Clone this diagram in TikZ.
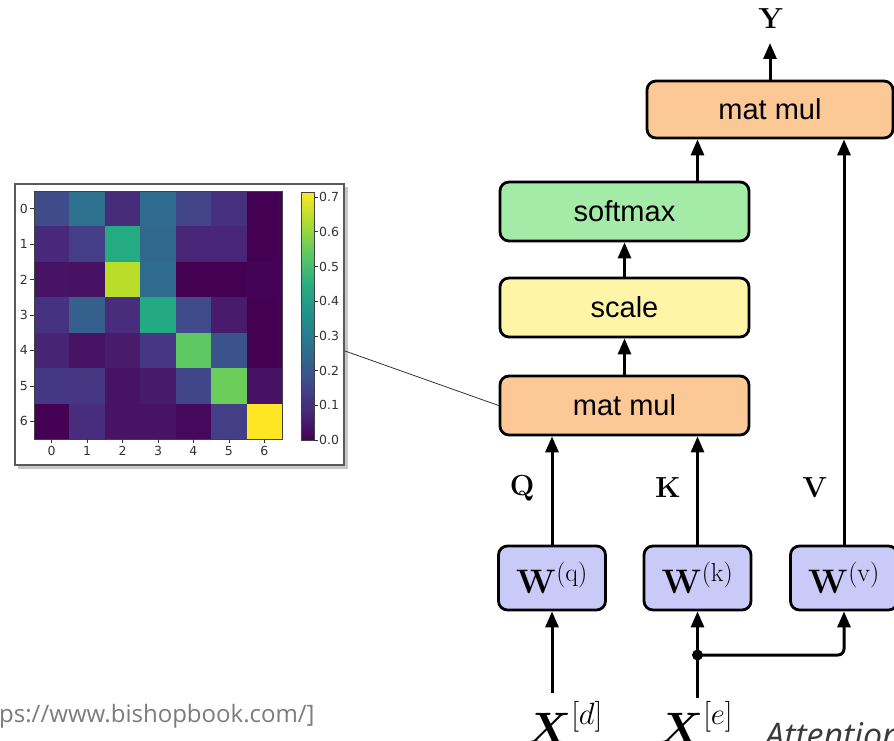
\RequirePackage{fix-cm}
\documentclass[tikz,border=0pt]{standalone}
\usepackage{amsmath}
\usepackage[no-math]{fontspec}
\newfontfamily\labelfont{Liberation Sans}
\newfontfamily\urlfont{Open Sans}
\newfontfamily\tickfont{DejaVu Sans}
\usetikzlibrary{arrows.meta}
\newcommand{\supsz}[1]{\text{\fontsize{26}{30}\selectfont #1}}
\definecolor{mmorange}{HTML}{FCC896}
\definecolor{smgreen}{HTML}{A3EBA6}
\definecolor{scyellow}{HTML}{FFF5A9}
\definecolor{wblue}{HTML}{CACAF9}
\definecolor{urlgray}{HTML}{7C7C7C}
\definecolor{attgray}{HTML}{3A3A3A}
\definecolor{framegray}{HTML}{5A5A5A}
\definecolor{ticktext}{HTML}{333333}
\definecolor{v0}{HTML}{440154}
\definecolor{v1}{HTML}{472C7A}
\definecolor{v2}{HTML}{3B518B}
\definecolor{v3}{HTML}{2C718E}
\definecolor{v4}{HTML}{21908D}
\definecolor{v5}{HTML}{27AD81}
\definecolor{v6}{HTML}{5CC863}
\definecolor{v7}{HTML}{AADC32}
\definecolor{v8}{HTML}{FDE725}
\pgfdeclareverticalshading{viridisbar}{100bp}{color(0bp)=(v0); color(25bp)=(v0); color(31.25bp)=(v1); color(37.5bp)=(v2); color(43.75bp)=(v3); color(50bp)=(v4); color(56.25bp)=(v5); color(62.5bp)=(v6); color(68.75bp)=(v7); color(75bp)=(v8); color(100bp)=(v8)}
\begin{document}
\begin{tikzpicture}[x=1pt,y=-1pt,
  box/.style={draw=black, line width=2.8pt, rounded corners=9pt, inner sep=0pt, font=\labelfont\fontsize{29}{34}\selectfont},
  wbox/.style={box, fill=wblue, minimum width=107pt, minimum height=64pt, font=\fontsize{34}{40}\selectfont},
  arr/.style={line width=3pt, -{Triangle[length=16pt,width=13pt]}},
  mlab/.style={inner sep=0pt, font=\fontsize{29}{34}\selectfont},
  tick/.style={line width=0.7pt, draw=ticktext},
  ticklab/.style={inner sep=0pt, text=ticktext, font=\tickfont\fontsize{12.5}{14}\selectfont}]
\useasboundingbox (0,0) rectangle (894,741);
\clip (0,0) rectangle (894,741);

% ---------- heat map panel ----------
\fill[gray!45] (18,187) rectangle (348,469);
\draw[fill=white, draw=framegray, line width=1.6pt] (15,184) rectangle (344,465);
\foreach \row [count=\r from 0] in {
  {3E4C8A,2D718E,472C7A,2F6B8E,414487,46307E,440154},
  {482878,433E85,25AB82,31688E,482576,482576,440154},
  {471365,471164,B8DE29,2F6C8E,440154,440154,440356},
  {46337F,355F8D,472D7B,24AA83,3E4A89,481B6D,440154},
  {482475,471365,481B6D,453781,5EC962,3B528B,440154},
  {453882,453781,471365,481A6C,404688,6CCD5A,471164},
  {440154,472D7B,471365,471365,46085C,433E85,FDE725}} {
  \foreach \cl [count=\k from 0] in \row {
    \definecolor{cellc}{HTML}{\cl}
    \fill[cellc] (34+\k*35.43,191+\r*35.43) rectangle ++(35.7,35.7);
  }
}
\draw[line width=0.7pt, draw=black!75] (34,191) rectangle (282,439);
\foreach \i in {0,...,6} {
  \draw[tick] (34,208.7+\i*35.43) -- (30,208.7+\i*35.43);
  \node[ticklab, anchor=east] (yl\i) at (28,208.7+\i*35.43) {\i};
  \draw[tick] (51.7+\i*35.43,439) -- (51.7+\i*35.43,443);
  \node[ticklab, anchor=north] (xl\i) at (51.7+\i*35.43,446) {\i};
}
\shade[shading=viridisbar] (301,192) rectangle (314,440);
\draw[line width=0.7pt, draw=black!75] (301,192) rectangle (314,440);
\foreach \v in {0,...,7} {
  \draw[tick] (314,440-\v*34.71) -- (318,440-\v*34.71);
  \node[ticklab, anchor=west] (cl\v) at (319,440-\v*34.71) {0.\v};
}
\coordinate (hmR) at (345,351);

% ---------- attention block ----------
\node[box, fill=mmorange, minimum width=246pt, minimum height=57pt] (mm2) at (770,109.5) {mat mul};
\node[box, fill=smgreen, minimum width=249pt, minimum height=59pt] (sm) at (624.5,211.5) {softmax};
\node[box, fill=scyellow, minimum width=249pt, minimum height=59pt] (sc) at (624.5,307.5) {scale};
\node[box, fill=mmorange, minimum width=249pt, minimum height=59pt] (mm1) at (624.5,405.5) {mat mul};

\draw[line width=0.8pt, draw=black!80] (hmR) -- (mm1.west);

\node[wbox] (Wq) at (552,578) {$\mathbf{W}^{\supsz{(q)}}$};
\node[wbox] (Wk) at (697.5,578) {$\mathbf{W}^{\supsz{(k)}}$};
\node[wbox] (Wv) at (844,578) {$\mathbf{W}^{\supsz{(v)}}$};

\node[mlab] (Q) at (522,488) {$\mathbf{Q}$};
\node[mlab] (K) at (668,488) {$\mathbf{K}$};
\node[mlab] (V) at (815,488) {$\mathbf{V}$};
\node[mlab] (Y) at (771,19) {$\mathbf{Y}$};
\coordinate (Ytip) at (770,43);

\draw[arr] (Wq.north) -- (Wq.north |- mm1.south);
\draw[arr] (Wk.north) -- (Wk.north |- mm1.south);
\draw[arr] (Wv.north) -- (Wv.north |- mm2.south);
\draw[arr] (mm1.north) -- (sc.south);
\draw[arr] (sc.north) -- (sm.south);
\draw[arr] (sm.north -| Wk) -- (Wk |- mm2.south);
\draw[arr] (mm2.north) -- (Ytip);

\node[inner sep=0pt, anchor=base west, font=\fontsize{44}{50}\selectfont] (Xd) at (526,743) {$\boldsymbol{X}^{[d]}$};
\node[inner sep=0pt, anchor=base west, font=\fontsize{44}{50}\selectfont] (Xe) at (658,743) {$\boldsymbol{X}^{[e]}$};
\coordinate (xdtop) at (552,693);
\coordinate (xetop) at (697.5,698);
\coordinate (split) at (697.5,655);
\draw[arr] (xdtop) -- (Wq.south);
\draw[arr] (xetop) -- (Wk.south);
\fill (split) circle (5.5pt);
\draw[arr, rounded corners=6pt] (split) -- (split -| Wv) -- (Wv.south);

% ---------- captions ----------
\node[inner sep=0pt, anchor=base west, text=urlgray, font=\urlfont\fontsize{24}{28}\selectfont] (url) at (-1,722) {ps://www.bishopbook.com/]};
\node[inner sep=0pt, anchor=base west, text=attgray, font=\urlfont\itshape\fontsize{34}{38}\selectfont] (att) at (765,747) {Attention};
\end{tikzpicture}
\end{document}
